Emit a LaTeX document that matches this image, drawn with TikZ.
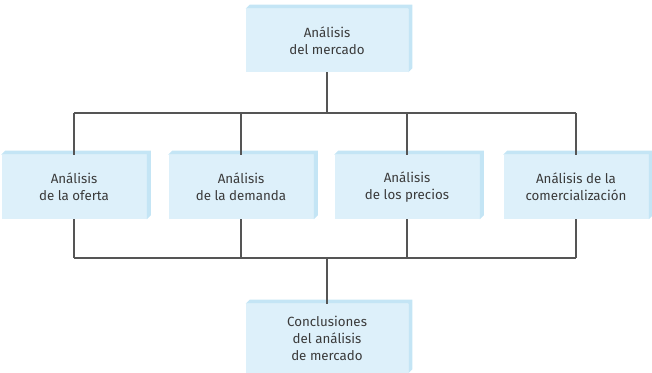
\documentclass[tikz,border=0pt]{standalone}
\usepackage{fontspec}
\setmainfont{Fira Sans}
\definecolor{cajafondo}{HTML}{DDF0FA}
\definecolor{cajaborde}{HTML}{C4E5F5}
\definecolor{lineagris}{HTML}{555555}
\definecolor{texto}{HTML}{3A3A3A}
\tikzset{
  caja/.style={fill=cajafondo, align=center, inner sep=0pt, text=texto,
    minimum width=108.75pt, minimum height=48pt, font=\fontsize{10}{12.5}\selectfont},
  cajaancha/.style={caja, minimum width=121.5pt},
  linea/.style={draw=lineagris, line width=0.9pt},
}
\begin{document}
\begin{tikzpicture}[x=0.75pt,y=-0.75pt]
\useasboundingbox (0,0) rectangle (652,373);

\node[cajaancha, minimum height=47.25pt] (mercado) at (327,40.5) {Análisis\\del mercado};

\node[caja] (oferta) at (74,187) {Análisis\\de la oferta};
\node[caja] (demanda) at (241,187) {Análisis\\de la demanda};
\node[caja] (precios) at (407,187) {Análisis\\de los precios};
\node[caja] (comerc) at (576,187) {Análisis de la\\comercialización};

\node[cajaancha, minimum height=51.75pt] (conclu) at (327,338.5) {Conclusiones\\del análisis\\de mercado};

% caras de profundidad
\foreach \n in {mercado,oferta,demanda,precios,comerc,conclu}{
  \fill[cajaborde] (\n.north west) -- ([shift={(4,-4)}]\n.north west)
    -- ([shift={(4,-4)}]\n.north east) -- ([shift={(4,-4)}]\n.south east)
    -- (\n.south east) -- (\n.north east) -- cycle;
}

\coordinate (busA) at (327,113);
\coordinate (busB) at (327,258);

\draw[linea] (mercado.south) -- (busA);
\draw[linea] (oferta.north |- busA) -- (comerc.north |- busA);
\foreach \n in {oferta,demanda,precios,comerc}{
  \draw[linea] (\n.north |- busA) -- (\n.north);
  \draw[linea] (\n.south) -- (\n.south |- busB);
}
\draw[linea] (oferta.south |- busB) -- (comerc.south |- busB);
\draw[linea] (busB) -- (conclu.north);

\end{tikzpicture}
\end{document}
